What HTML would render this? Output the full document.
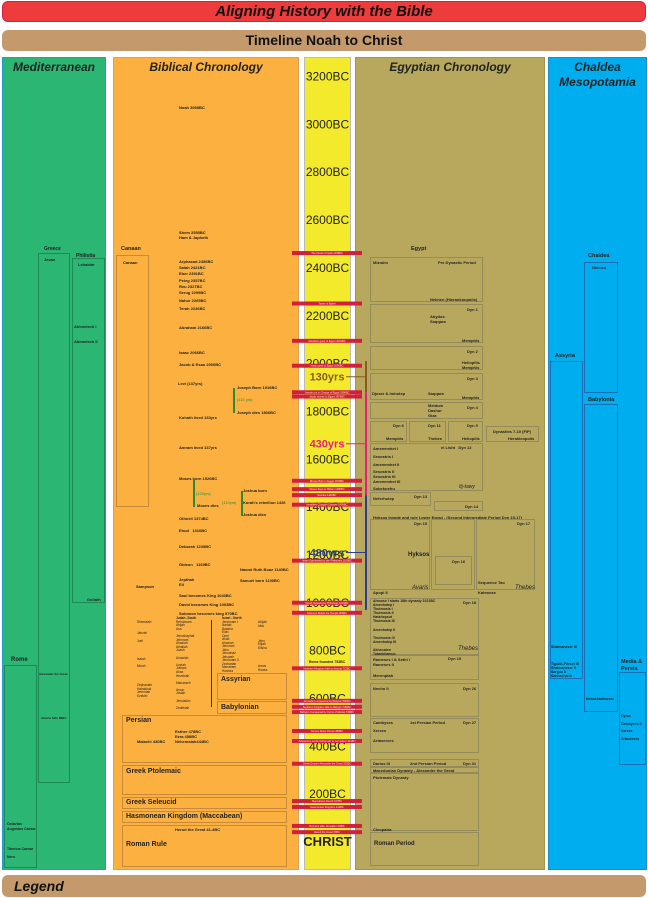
<!DOCTYPE html>
<html><head><meta charset="utf-8">
<style>
*{margin:0;padding:0;box-sizing:border-box}
body{width:648px;height:898px;background:#fff;position:relative;overflow:hidden;font-family:"Liberation Sans",sans-serif;}
.a{position:absolute}
.t{position:absolute;font-size:4px;font-weight:bold;color:#222;white-space:nowrap;line-height:5px}
.b{position:absolute;border:1px solid rgba(0,0,0,0.25)}
.ob{border-color:#c88a3a}
.eb{border-color:#948a5a}
.bb{border-color:#1a6fb8}
.gb{border-color:#1b8a55}
.h{font-style:italic;font-weight:bold;font-size:12px;color:#222;text-align:center}
.sec{position:absolute;font-size:7px;font-weight:bold;color:#222}
</style></head><body>
<div class="a" style="left:2px;top:1px;width:644px;height:21px;background:#ee3b3b;border-radius:6px;border:1px solid #d0204a;text-align:center;font:italic bold 15px 'Liberation Sans',sans-serif;line-height:20px;color:#111">Aligning History with the Bible</div>
<div class="a" style="left:2px;top:30px;width:644px;height:21px;background:#c49a6c;border-radius:6px;text-align:center;font:bold 14px 'Liberation Sans',sans-serif;line-height:21px;color:#111">Timeline Noah to Christ</div>

<div class="a" style="left:2px;top:57px;width:104px;height:813px;background:#2bb673;border:1px solid #1f9ad6"><div class="h" style="margin-top:2px">Mediterranean</div></div>
<div class="a" style="left:113px;top:57px;width:186px;height:813px;background:#fbb040;border:1px solid #d9a060"><div class="h" style="margin-top:2px">Biblical Chronology</div></div>
<div class="a" style="left:304px;top:57px;width:47px;height:813px;background:#f4ea2c;border:1px solid #bbb"></div>
<div class="a" style="left:355px;top:57px;width:190px;height:813px;background:#b8a85e;border:1px solid #a09650"><div class="h" style="margin-top:2px">Egyptian Chronology</div></div>
<div class="a" style="left:548px;top:57px;width:99px;height:813px;background:#00aeef;border:1px solid #1a8fd0"><div class="h" style="margin-top:2px;line-height:15px">Chaldea<br>Mesopotamia</div></div>
<div class="a" style="left:2px;top:875px;width:644px;height:22px;background:#c49a6c;border-radius:6px;font:italic bold 14px 'Liberation Sans',sans-serif;line-height:22px;padding-left:12px;color:#111">Legend</div>

<!-- Mediterranean -->
<div class="sec" style="left:44px;top:246px;font-size:5px">Greece</div>
<div class="sec" style="left:76px;top:253px;font-size:5px">Philistia</div>
<div class="b gb" style="left:38px;top:253px;width:32px;height:530px"></div>
<div class="b gb" style="left:72px;top:258px;width:33px;height:345px"></div>
<div class="t" style="left:44px;top:257px">Javan</div>
<div class="t" style="left:78px;top:262px">Lehabim</div>
<div class="t" style="left:74px;top:324px">Abimelech I</div>
<div class="t" style="left:74px;top:339px">Abimelech II</div>
<div class="t" style="left:87px;top:597px">Goliath</div>
<div class="t" style="left:39px;top:672px;font-size:3px">Alexander the Great</div>
<div class="t" style="left:41px;top:716px;font-size:3px">Athens falls 86BC</div>
<div class="sec" style="left:11px;top:657px;font-size:6px">Rome</div>
<div class="b gb" style="left:4px;top:665px;width:33px;height:203px"></div>
<div class="t" style="left:7px;top:822px;font-size:3.5px">Octavian<br>Augustus Caesar</div>
<div class="t" style="left:7px;top:847px;font-size:3.5px">Tiberius Caesar</div>
<div class="t" style="left:7px;top:855px;font-size:3.5px">Nero</div>

<!-- Biblical -->
<div class="t" style="left:179px;top:105px">Noah 3058BC</div>
<div class="t" style="left:179px;top:230px">Shem 2555BC<br>Ham &amp; Japheth</div>
<div class="sec" style="left:121px;top:246px;font-size:5.5px">Canaan</div>
<div class="b ob" style="left:116px;top:255px;width:33px;height:252px"></div>
<div class="t" style="left:123px;top:260px">Canaan</div>
<div class="t" style="left:179px;top:259px;line-height:6.2px">Arphaxad 2456BC<br>Salah 2421BC<br>Eber 2391BC<br>Peleg 2357BC<br>Reu 2327BC<br>Serug 2295BC</div>
<div class="t" style="left:179px;top:298px">Nahor 2265BC</div>
<div class="t" style="left:179px;top:306px">Terah 2236BC</div>
<div class="t" style="left:179px;top:325px">Abraham 2166BC</div>
<div class="t" style="left:179px;top:350px">Isaac 2066BC</div>
<div class="t" style="left:179px;top:362px">Jacob &amp; Esau 2006BC</div>
<div class="t" style="left:178px;top:381px">Levi (137yrs)</div>
<div class="t" style="left:237px;top:385px">Joseph Born 1916BC</div>
<div class="a" style="left:233px;top:388px;width:2px;height:25px;background:#2a8a3a"></div>
<div class="t" style="left:237px;top:397px;color:#2a8a3a;font-weight:normal">(110 yrs)</div>
<div class="t" style="left:237px;top:410px">Joseph dies 1806BC</div>
<div class="t" style="left:179px;top:415px">Kohath lived 133yrs</div>
<div class="t" style="left:179px;top:445px">Amram lived 137yrs</div>
<div class="t" style="left:179px;top:476px">Moses born 1526BC</div>
<div class="a" style="left:193px;top:479px;width:2px;height:28px;background:#2a8a3a"></div>
<div class="t" style="left:196px;top:491px;color:#2a8a3a;font-weight:normal">(120yrs)</div>
<div class="t" style="left:197px;top:503px">Moses dies</div>
<div class="t" style="left:243px;top:488px">Joshua born</div>
<div class="a" style="left:241px;top:491px;width:2px;height:25px;background:#2a8a3a"></div>
<div class="t" style="left:222px;top:500px;color:#2a8a3a;font-weight:normal">(110yrs)</div>
<div class="t" style="left:243px;top:500px">Korah's rebellion 1426</div>
<div class="t" style="left:243px;top:512px">Joshua dies</div>
<div class="t" style="left:179px;top:516px">Othneil 1374BC</div>
<div class="t" style="left:179px;top:528px">Ehud &nbsp; 1316BC</div>
<div class="t" style="left:179px;top:544px">Deborah 1235BC</div>
<div class="t" style="left:179px;top:562px">Gideon &nbsp; 1169BC</div>
<div class="t" style="left:240px;top:567px">Naomi Ruth Boaz 1140BC</div>
<div class="t" style="left:179px;top:577px">Jepthah<br>Eli</div>
<div class="t" style="left:240px;top:578px">Samuel born 1100BC</div>
<div class="t" style="left:136px;top:584px">Sampson</div>
<div class="t" style="left:179px;top:593px">Saul becomes King 1043BC</div>
<div class="t" style="left:179px;top:602px">David becomes King 1003BC</div>
<div class="t" style="left:179px;top:611px">Solomon becomes king 970BC</div>
<div class="t" style="left:176px;top:617px;font-size:3.2px;line-height:3.6px">Judah -South<br><span style="font-weight:normal">Rehoboam<br>Abijah<br>Asa<br><br>Jehoshaphat<br>Jehoram<br>Ahaziah<br>Athaliah<br>Joash<br><br>Amaziah<br><br>Uzziah<br>Jotham<br>Ahaz<br>Hezekiah<br><br>Manasseh<br><br>Amon<br>Josiah<br><br>Jehoiakim<br><br>Zedekiah</span></div>
<div class="a" style="left:211px;top:620px;width:1px;height:87px;background:#333"></div>
<div class="t" style="left:222px;top:617px;font-size:3.2px;line-height:3.5px">Israel - North<br><span style="font-weight:normal">Jeroboam I<br>Nadab<br>Baasha<br>Elah<br>Omri<br>Ahab<br>Ahaziah<br>Jehoram<br>Jehu<br>Jehoahaz<br>Jehoash<br>Jeroboam II<br>Zechariah<br>Menahem<br>Hoshea</span></div>
<div class="t" style="left:137px;top:621px;font-size:3.2px;font-weight:normal;line-height:3.7px">Shemaiah<br><br><br>Jahziel<br><br>Joel<br><br><br><br><br>Isaiah<br><br>Micah<br><br><br><br><br>Zephaniah<br>Habakkuk<br>Jeremiah<br>Ezekiel</div>
<div class="t" style="left:258px;top:621px;font-size:3.2px;font-weight:normal;line-height:3.7px">Ahijah<br>Iddo<br><br><br><br>Jehu<br>Elijah<br>Elisha<br><br><br><br><br>Amos<br>Hosea</div>
<div class="b ob" style="left:217px;top:673px;width:70px;height:27px"></div><div class="sec" style="left:221px;top:676px">Assyrian</div>
<div class="b ob" style="left:217px;top:701px;width:70px;height:13px"></div><div class="sec" style="left:221px;top:704px">Babylonian</div>
<div class="b ob" style="left:122px;top:715px;width:165px;height:48px"></div><div class="sec" style="left:126px;top:717px">Persian</div>
<div class="t" style="left:175px;top:729px">Esther 478BC<br>Ezra 458BC<br>Nehemaiah444BC</div>
<div class="t" style="left:137px;top:739px">Malachi 430BC</div>
<div class="b ob" style="left:122px;top:765px;width:165px;height:30px"></div><div class="sec" style="left:126px;top:768px">Greek Ptolemaic</div>
<div class="b ob" style="left:122px;top:797px;width:165px;height:12px"></div><div class="sec" style="left:126px;top:799px">Greek Seleucid</div>
<div class="b ob" style="left:122px;top:811px;width:165px;height:12px"></div><div class="sec" style="left:126px;top:813px">Hasmonean Kingdom (Maccabean)</div>
<div class="b ob" style="left:122px;top:825px;width:165px;height:42px"></div><div class="sec" style="left:126px;top:841px">Roman Rule</div>
<div class="t" style="left:175px;top:827px">Herod the Great 41-4BC</div>

<!-- Egyptian -->
<div class="sec" style="left:411px;top:246px;font-size:5.5px">Egypt</div>
<div class="b eb" style="left:370px;top:257px;width:113px;height:45px"></div>
<div class="t" style="left:373px;top:260px">Mizraim</div><div class="t" style="left:438px;top:260px">Pre Dynastic Period</div><div class="t" style="left:430px;top:297px">Nekhen (Hierankonpolis)</div>
<div class="b eb" style="left:370px;top:304px;width:113px;height:39px"></div>
<div class="t" style="left:467px;top:307px">Dyn 1</div><div class="t" style="left:430px;top:314px">Abydos<br>Saqqara</div><div class="t" style="left:462px;top:338px">Memphis</div>
<div class="b eb" style="left:370px;top:346px;width:113px;height:24px"></div>
<div class="t" style="left:467px;top:349px">Dyn 2</div><div class="t" style="left:462px;top:360px">Heliopilis<br>Memphis</div>
<div class="b eb" style="left:370px;top:373px;width:113px;height:27px"></div>
<div class="t" style="left:467px;top:376px">Dyn 3</div><div class="t" style="left:372px;top:391px">Djoser &amp; Imhotep</div><div class="t" style="left:428px;top:391px">Saqqara</div><div class="t" style="left:462px;top:395px">Memphis</div>
<div class="b eb" style="left:370px;top:402px;width:113px;height:17px"></div>
<div class="t" style="left:428px;top:403px">Meidum<br>Dashur<br>Giza</div><div class="t" style="left:467px;top:405px">Dyn 4</div>
<div class="b eb" style="left:370px;top:421px;width:37px;height:21px"></div><div class="t" style="left:393px;top:423px">Dyn 6</div><div class="t" style="left:386px;top:436px">Memphis</div>
<div class="b eb" style="left:409px;top:421px;width:37px;height:21px"></div><div class="t" style="left:428px;top:423px">Dyn 11</div><div class="t" style="left:428px;top:436px">Thebes</div>
<div class="b eb" style="left:448px;top:421px;width:35px;height:21px"></div><div class="t" style="left:467px;top:423px">Dyn 5</div><div class="t" style="left:462px;top:436px">Heliopilis</div>
<div class="b eb" style="left:486px;top:426px;width:53px;height:16px"></div><div class="t" style="left:493px;top:429px">Dynasties 7-10 (FIP)</div><div class="t" style="left:508px;top:436px">Herakleopolis</div>
<div class="b eb" style="left:370px;top:443px;width:113px;height:48px"></div>
<div class="t" style="left:373px;top:445px;line-height:8px">Amenemhet I<br>Sesostris I<br>Amenemhet II</div><div class="t" style="left:441px;top:445px">el Lisht &nbsp; Dyn 12</div>
<div class="t" style="left:373px;top:469px">Sesostris II<br>Sesostris III<br>Amenemhet III</div><div class="t" style="left:373px;top:486px">Sobeknefru</div><div class="t" style="left:459px;top:485px;font-style:italic;font-size:5px;font-weight:normal">Itj-tawy</div>
<div class="b eb" style="left:370px;top:492px;width:61px;height:14px"></div><div class="t" style="left:373px;top:496px">Neferhotep</div><div class="t" style="left:414px;top:494px">Dyn 13</div>
<div class="b eb" style="left:434px;top:501px;width:49px;height:10px"></div><div class="t" style="left:465px;top:504px">Dyn 14</div>
<div class="t" style="left:373px;top:515px">Hyksos Invade and rule Lower Egypt - (Second Intermediate Period Dyn 15-17)</div>
<div class="b eb" style="left:370px;top:519px;width:60px;height:71px"></div><div class="t" style="left:414px;top:521px">Dyn 15</div><div class="sec" style="left:408px;top:552px;font-size:6px">Hyksos</div><div class="t" style="left:373px;top:590px">Apopi II</div><div class="t" style="left:412px;top:586px;font-style:italic;font-size:6px;font-weight:normal">Avaris</div>
<div class="b eb" style="left:431px;top:519px;width:44px;height:71px"></div>
<div class="b eb" style="left:435px;top:556px;width:37px;height:29px"></div><div class="t" style="left:452px;top:559px">Dyn 16</div>
<div class="b eb" style="left:476px;top:519px;width:59px;height:71px"></div><div class="t" style="left:517px;top:521px">Dyn 17</div><div class="t" style="left:478px;top:580px">Sequence Tao</div><div class="t" style="left:478px;top:590px">Kahmose</div><div class="t" style="left:515px;top:586px;font-style:italic;font-size:6px;font-weight:normal">Thebes</div>
<div class="b eb" style="left:370px;top:598px;width:109px;height:57px"></div>
<div class="t" style="left:373px;top:599px;font-size:3.5px;line-height:4.1px">Ahmose I starts 18th dynasty 1021BC<br>Amenhotep I<br>Thutmosis I<br>Thutmosis II<br>Hatshepsut<br>Thutmosis III<br><br>Amenhotep II<br><br>Thutmosis IV<br>Amenhotep III<br><br>Akhenaten<br>Tutankhamun</div>
<div class="t" style="left:463px;top:600px">Dyn 18</div><div class="t" style="left:458px;top:647px;font-style:italic;font-size:6px;font-weight:normal">Thebes</div>
<div class="b eb" style="left:370px;top:655px;width:109px;height:25px"></div><div class="t" style="left:373px;top:657px">Rameses I &amp; Sethi I<br>Rameses II</div><div class="t" style="left:448px;top:656px">Dyn 19</div><div class="t" style="left:373px;top:673px">Merenptah</div>
<div class="b eb" style="left:370px;top:683px;width:109px;height:34px"></div><div class="t" style="left:373px;top:686px">Necho II</div><div class="t" style="left:463px;top:686px">Dyn 26</div>
<div class="b eb" style="left:370px;top:718px;width:109px;height:35px"></div><div class="t" style="left:373px;top:720px">Cambyses</div><div class="t" style="left:410px;top:720px">1st Persian Period</div><div class="t" style="left:463px;top:720px">Dyn 27</div><div class="t" style="left:373px;top:728px">Xerxes</div><div class="t" style="left:373px;top:738px">Artaxerxes</div>
<div class="b eb" style="left:370px;top:759px;width:109px;height:8px"></div><div class="t" style="left:373px;top:761px">Darius III</div><div class="t" style="left:410px;top:761px">2nd Persian Period</div><div class="t" style="left:463px;top:761px">Dyn 31</div>
<div class="b eb" style="left:370px;top:767px;width:109px;height:6px"></div><div class="t" style="left:373px;top:768px">Macedonian Dynasty - Alexander the Great</div>
<div class="b eb" style="left:370px;top:773px;width:109px;height:58px"></div><div class="t" style="left:373px;top:775px">Ptolemaic Dynasty</div><div class="t" style="left:373px;top:827px">Cleopatra</div>
<div class="b eb" style="left:370px;top:832px;width:109px;height:34px"></div><div class="sec" style="left:374px;top:841px;font-size:6px">Roman Period</div>

<!-- Chaldea -->
<div class="sec" style="left:588px;top:253px;font-size:5.5px">Chaldea</div>
<div class="b bb" style="left:584px;top:262px;width:34px;height:131px"></div><div class="t" style="left:592px;top:265px">Nimrod</div>
<div class="sec" style="left:588px;top:397px;font-size:5.5px">Babylonia</div>
<div class="b bb" style="left:584px;top:404px;width:34px;height:308px"></div><div class="t" style="left:586px;top:697px;font-size:3.5px">Nebuchadnezzar</div>
<div class="sec" style="left:555px;top:353px;font-size:5.5px">Assyria</div>
<div class="b bb" style="left:550px;top:361px;width:33px;height:318px"></div>
<div class="t" style="left:551px;top:645px;font-size:3.5px">Shalmaneser III</div>
<div class="t" style="left:551px;top:662px;font-size:3.5px;line-height:4px">Tiglath-Pileser III<br>Shalmaneser V<br>Sargon II<br>Sanhacharib</div>
<div class="sec" style="left:621px;top:659px;font-size:5.5px;line-height:7px">Media &amp;<br>Persia</div>
<div class="b bb" style="left:619px;top:672px;width:27px;height:93px"></div>
<div class="t" style="left:621px;top:713px;font-size:3.5px;line-height:7.5px">Cyrus<br>Cambyses II<br>Xerxes<br>Artaxerxes</div>

<svg id="tl" class="a" style="left:0;top:0" width="648" height="898"></svg>
<script>
const tickYears=[3200,3000,2800,2600,2400,2200,2000,1800,1600,1400,1200,1000,800,600,400,200,0];
const tickLabels=["3200BC","3000BC","2800BC","2600BC","2400BC","2200BC","2000BC","1800BC","1600BC","1400BC","1200BC","1000BC","800BC","600BC","400BC","200BC","CHRIST"];
const eventYears=[2458,2247,2091,1987,1876,1858,1506,1471,1446,1406,1172,996,954,722,586,561,539,460,418,323,167,142,63,37];
const eventLabels=["The Flood of Noah 2458BC","Tower of Babel","Abraham goes to Egypt 2091BC","Isaac goes to Egypt 2006BC","Joseph put in Charge of Egypt 1886BC","Jacob moves to Egypt 1876BC","Moses Born in Egypt 1526BC","Moses flees to Midian 1486BC","Exodus 1446BC","Israelites Conquer Canaan 1406BC","Israel Oppressed by the Philistines 1180BC","David Defeats the Philistines 1003BC","Solomon Builds the Temple 966BC","Northern Kingdom falls to Assyria 722BC","Jerusalem conquered by Babylon 586BC","Southern Kingdom falls to Babylon 586BC","Babylon Conquered by Cyrus of Medes 539BC","Xerxes Rules Persia 486BC","Artaxerxes sends Nehemiah to Jerusalem 444BC","Greek Empire Alexander the Great 332BC","Maccabees Revolt 167BC","Hasmonean Kingdom 142BC","Romans take Jerusalem 63BC","Herod the Great 37BC"];
const spanStarts=[2006,1876,1446];
const spanEnds=[1876,1446,966];
const spanLabels=["130yrs","430yrs","480yrs"];
const spanColors=["#8a5a1e","#ec1c7c","#2b3f9a"];
const Y0=841,K=0.2392;
function y(yr){return Y0-yr*K;}
const svg=document.getElementById('tl');const NS="http://www.w3.org/2000/svg";
function mk(t,a){const e=document.createElementNS(NS,t);for(const k in a)e.setAttribute(k,a[k]);svg.appendChild(e);return e;}
tickYears.forEach((yr,i)=>{const e=mk('text',{x:327.5,y:y(yr)+5,'text-anchor':'middle','font-family':'Liberation Sans, sans-serif','font-size':yr===0?'13':'12','font-weight':yr===0?'bold':'normal',fill:'#222'});e.textContent=tickLabels[i];

});
eventYears.forEach((yr,i)=>{const yy=y(yr);const r=mk('rect',{x:292,y:yy-2,width:70,height:4,fill:'#d0203c'});


const t=mk('text',{x:327,y:yy+1,'text-anchor':'middle','font-family':'Liberation Sans, sans-serif','font-size':'2.6',fill:'#fdd'});t.textContent=eventLabels[i];});
spanStarts.forEach((s,i)=>{const y1=y(s),y2=y(spanEnds[i]);const l=mk('line',{x1:366,y1:y1,x2:366,y2:y2,stroke:spanColors[i],'stroke-width':2});


const m=(y1+y2)/2;mk('line',{x1:346,y1:m,x2:366,y2:m,stroke:spanColors[i],'stroke-width':1});
const t=mk('text',{x:327,y:m+4,'text-anchor':'middle','font-family':'Liberation Sans, sans-serif','font-size':'11','font-weight':'bold',fill:spanColors[i]});t.textContent=spanLabels[i];

});
const rf=mk('text',{x:327,y:y(753)+2,'text-anchor':'middle','font-family':'Liberation Sans, sans-serif','font-size':'3.5','font-weight':'bold',fill:'#222'});rf.textContent="Rome founded 753BC";
</script>
</body></html>
